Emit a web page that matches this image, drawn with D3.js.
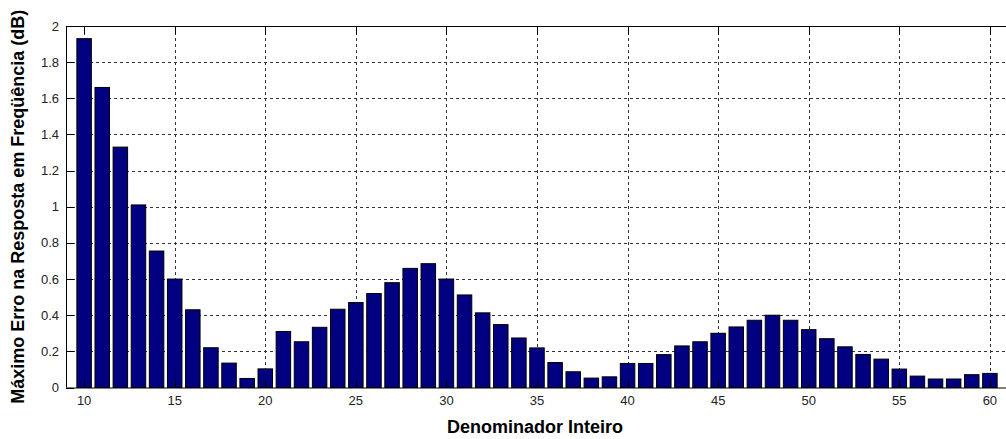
<!DOCTYPE html>
<html>
<head>
<meta charset="utf-8">
<script src="https://cdn.jsdelivr.net/npm/d3@7"></script>
<style>
  body { margin: 0; background: #fff; }
  svg { display: block; font-family: "Liberation Sans", Arial, sans-serif; }
</style>
</head>
<body>
<div id="chart"></div>
<script>
// denominators 10..60 and the max frequency-response error (dB)
const denominators = d3.range(10, 61);
const maxError = [
  1.93, 1.66, 1.33, 1.01, 0.755, 0.60, 0.43, 0.22, 0.135, 0.05,
  0.103, 0.31, 0.253, 0.333, 0.433, 0.47, 0.52, 0.58, 0.659, 0.685,
  0.60, 0.512, 0.413, 0.348, 0.274, 0.219, 0.138, 0.087, 0.052, 0.059,
  0.133, 0.133, 0.182, 0.23, 0.253, 0.30, 0.335, 0.372, 0.40, 0.372,
  0.32, 0.27, 0.225, 0.183, 0.157, 0.102, 0.063, 0.047, 0.047, 0.071,
  0.078
];
const xTicks = [10, 15, 20, 25, 30, 35, 40, 45, 50, 55, 60];
const yTicks = [0, 0.2, 0.4, 0.6, 0.8, 1, 1.2, 1.4, 1.6, 1.8, 2];
const xLabel = "Denominador Inteiro";
const yLabel = "Máximo Erro na Resposta em Freqüência (dB)";

const W = 1006, H = 439;
const m = { top: 26, right: -2, bottom: 51.5, left: 66 };
const innerW = W - m.left - m.right;
const innerH = H - m.top - m.bottom;

const svg = d3.select("#chart").append("svg")
  .attr("width", W).attr("height", H);

const g = svg.append("g").attr("transform", `translate(${m.left},${m.top})`);

const x = d3.scaleLinear().domain([9, 61]).range([0, innerW]);
const y = d3.scaleLinear().domain([0, 2]).range([innerH, 0]);
const barW = 0.8;

// dotted grid
g.append("g").selectAll("line.gx").data(xTicks).join("line")
  .attr("x1", d => Math.round(x(d)) + 0.5).attr("x2", d => Math.round(x(d)) + 0.5)
  .attr("y1", 0).attr("y2", innerH)
  .attr("stroke", "#333").attr("stroke-dasharray", "3,3");
g.append("g").selectAll("line.gy").data(yTicks.slice(1)).join("line")
  .attr("x1", 0).attr("x2", innerW)
  .attr("y1", d => Math.round(y(d)) + 0.5).attr("y2", d => Math.round(y(d)) + 0.5)
  .attr("stroke", "#333").attr("stroke-dasharray", "3,3");

// bars
g.append("g").selectAll("rect").data(denominators).join("rect")
  .attr("x", (d) => x(d - barW / 2))
  .attr("width", x(barW) - x(0))
  .attr("y", (d, i) => y(maxError[i]))
  .attr("height", (d, i) => innerH - y(maxError[i]))
  .attr("fill", "#000080")
  .attr("stroke", "#000").attr("stroke-width", 1);

// box and inward ticks
g.append("line").attr("x1", 0).attr("x2", innerW).attr("y1", 0.5).attr("y2", 0.5).attr("stroke", "#000");
g.append("line").attr("x1", 0).attr("x2", innerW).attr("y1", innerH + 0.5).attr("y2", innerH + 0.5).attr("stroke", "#000");
g.append("line").attr("x1", 0.5).attr("x2", 0.5).attr("y1", 0).attr("y2", innerH).attr("stroke", "#000");

const tickLen = 8;
g.append("g").selectAll("line").data(xTicks).join("line")
  .attr("x1", d => Math.round(x(d)) + 0.5).attr("x2", d => Math.round(x(d)) + 0.5)
  .attr("y1", 0).attr("y2", tickLen).attr("stroke", "#000");
g.append("g").selectAll("line").data(xTicks).join("line")
  .attr("x1", d => Math.round(x(d)) + 0.5).attr("x2", d => Math.round(x(d)) + 0.5)
  .attr("y1", innerH).attr("y2", innerH - tickLen).attr("stroke", "#000");
g.append("g").selectAll("line").data(yTicks).join("line")
  .attr("x1", 0).attr("x2", tickLen)
  .attr("y1", d => Math.round(y(d)) + 0.5).attr("y2", d => Math.round(y(d)) + 0.5)
  .attr("stroke", "#000");

// tick labels
g.append("g").selectAll("text").data(xTicks).join("text")
  .attr("x", d => x(d)).attr("y", innerH + 17)
  .attr("text-anchor", "middle")
  .style("font-size", "13px").attr("fill", "#222")
  .text(d => d);
g.append("g").selectAll("text").data(yTicks).join("text")
  .attr("x", -7).attr("y", d => y(d) + 4.5)
  .attr("text-anchor", "end")
  .style("font-size", "13px").attr("fill", "#222")
  .text(d => d3.format("~g")(d));

// axis titles
svg.append("text")
  .attr("x", 535).attr("y", 433)
  .attr("text-anchor", "middle")
  .style("font-size", "18px").style("font-weight", "bold")
  .text(xLabel);
svg.append("text")
  .attr("transform", `translate(24,${m.top + innerH / 2}) rotate(-90)`)
  .attr("text-anchor", "middle")
  .style("font-size", "18px").style("font-weight", "bold")
  .text(yLabel);
</script>
</body>
</html>
